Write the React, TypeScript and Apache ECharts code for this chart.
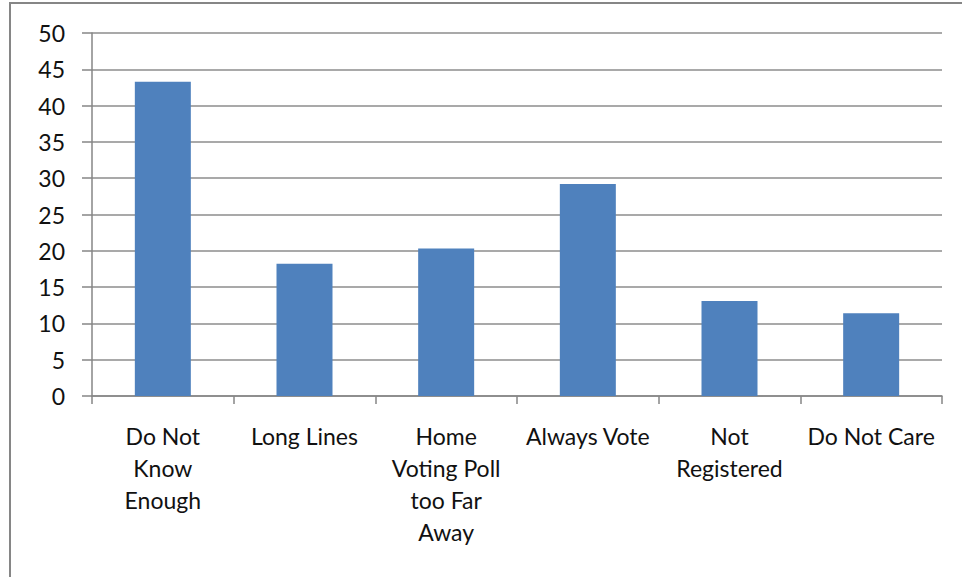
import React, { useEffect, useRef } from "react";
import * as echarts from "echarts";

// Reasons given for not voting
const categories = [
  "Do Not\nKnow\nEnough",
  "Long Lines",
  "Home\nVoting Poll\ntoo Far\nAway",
  "Always Vote",
  "Not\nRegistered",
  "Do Not Care",
];
const values = [43.3, 18.2, 20.3, 29.2, 13.1, 11.4];
const yTicks = [0, 5, 10, 15, 20, 25, 30, 35, 40, 45, 50];

const FONT = "Lato, 'Open Sans', sans-serif";

export default function App() {
  const ref = useRef<HTMLDivElement>(null);

  useEffect(() => {
    if (!ref.current) return;
    const chart = echarts.init(ref.current, undefined, { renderer: "svg" });
    chart.setOption({
      animation: false,
      backgroundColor: "#ffffff",
      textStyle: { fontFamily: FONT },
      graphic: [
        {
          type: "rect",
          shape: { x: 10, y: 3, width: 1000, height: 640 },
          style: { fill: "none", stroke: "#868686", lineWidth: 2 },
          silent: true,
        },
      ],
      grid: { left: 92, right: 20, top: 33, bottom: 181, containLabel: false },
      xAxis: {
        type: "category",
        data: categories,
        axisLine: { lineStyle: { color: "#868686", width: 1.5 } },
        axisTick: { show: true, length: 8, lineStyle: { color: "#868686", width: 1.5 } },
        axisLabel: {
          color: "#111",
          fontSize: 23,
          fontFamily: FONT,
          lineHeight: 32,
          margin: 24,
          interval: 0,
          align: "center",
        },
      },
      yAxis: {
        type: "value",
        min: yTicks[0],
        max: yTicks[yTicks.length - 1],
        interval: 5,
        axisLine: { show: true, lineStyle: { color: "#868686", width: 1.5 } },
        axisTick: { show: true, length: 10, lineStyle: { color: "#868686", width: 1.5 } },
        splitLine: { show: true, lineStyle: { color: "#8c8c8c", width: 1.5 } },
        axisLabel: { color: "#111", fontSize: 23, fontFamily: FONT, margin: 27 },
      },
      series: [
        {
          type: "bar",
          data: values,
          barWidth: 56,
          itemStyle: { color: "#4F81BD" },
        },
      ],
    });
    return () => chart.dispose();
  }, []);

  return (
    <div
      ref={ref}
      style={{ position: "fixed", left: 0, top: 0, width: 962, height: 577 }}
    />
  );
}
